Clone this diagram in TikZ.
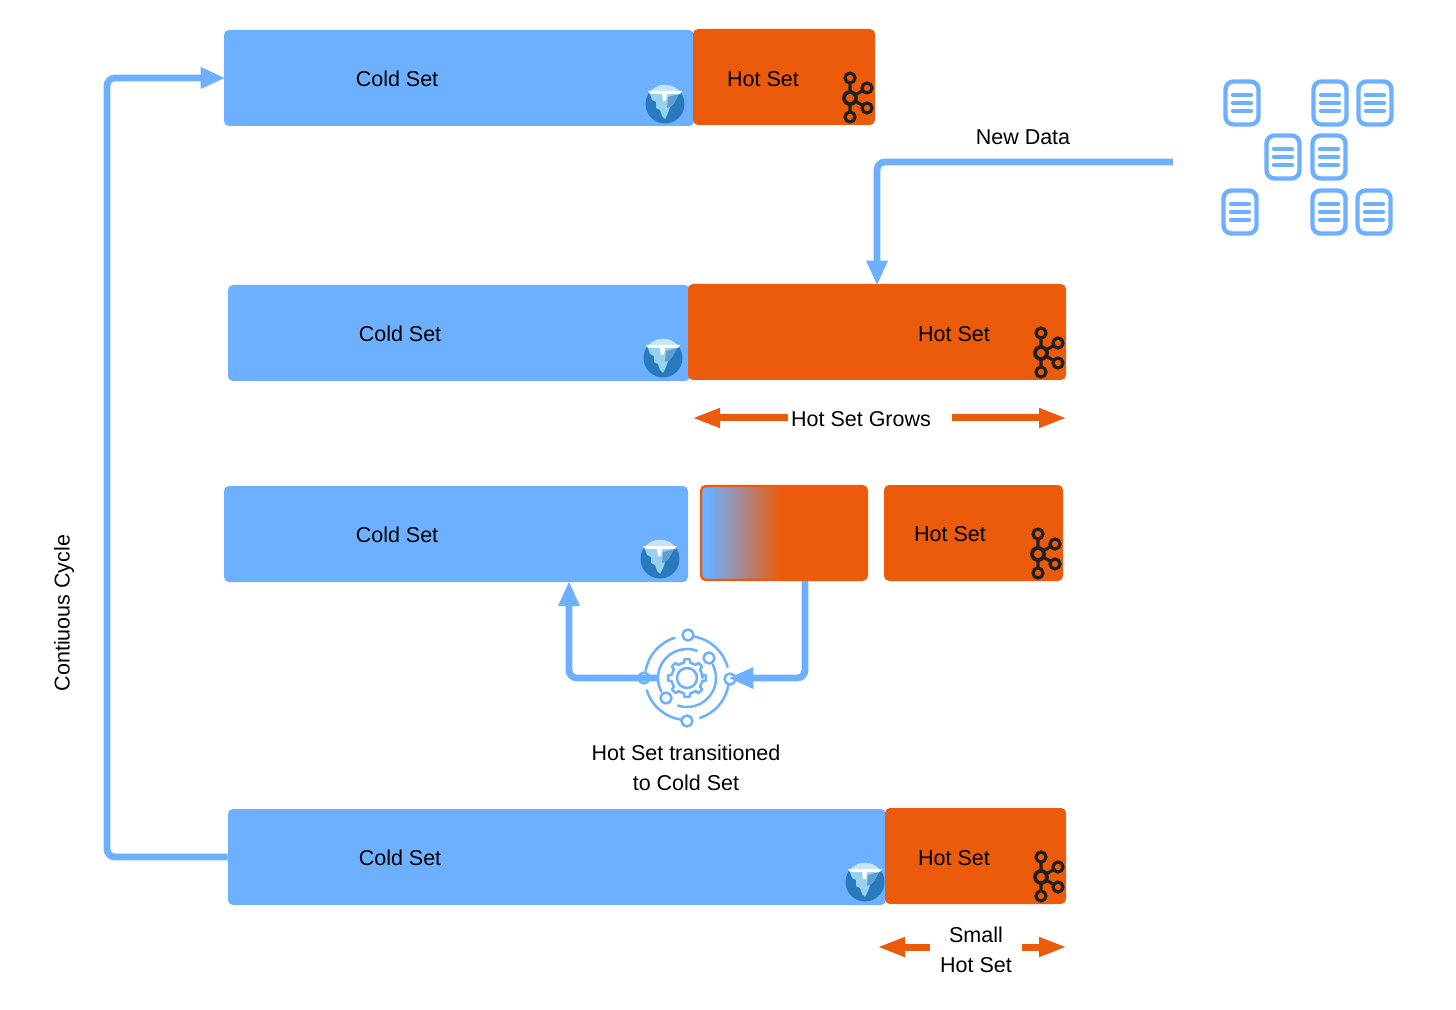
\documentclass[tikz,border=0pt]{standalone}
\usepackage{fontspec}
\setmainfont{Liberation Sans}
\usetikzlibrary{arrows.meta,positioning,calc}
\definecolor{ColdBlue}{RGB}{108,176,255}
\definecolor{HotOrange}{RGB}{236,91,11}
\definecolor{KafkaInk}{RGB}{32,32,34}
\definecolor{BergDeep}{RGB}{40,122,189}
\definecolor{BergSky}{RGB}{196,229,245}
\definecolor{BergIce}{RGB}{150,210,238}
\definecolor{BergShade}{RGB}{92,158,212}
\pgfdeclarehorizontalshading{coolwarm}{100bp}{color(0bp)=(ColdBlue); color(27bp)=(ColdBlue); color(49bp)=(HotOrange); color(100bp)=(HotOrange)}
\tikzset{
  coldbox/.style={fill=ColdBlue,rounded corners=2.5pt,minimum height=48pt,inner sep=0pt},
  hotbox/.style={fill=HotOrange,rounded corners=2.5pt,minimum height=48pt,inner sep=0pt},
  fadebox/.style={draw=HotOrange,line width=1.2pt,shading=coolwarm,rounded corners=2.5pt,
    minimum width=83pt,minimum height=47pt,inner sep=0pt},
  lbl/.style={inner sep=0pt,align=center,yshift=-0.5pt,font=\fontsize{10.75}{15}\selectfont},
  flow/.style={-{Triangle[length=12.5pt,width=10pt]},line width=3.4pt,ColdBlue,rounded corners=4pt,shorten >=-1pt},
  growarrow/.style={-{Triangle[length=14pt,width=9pt]},line width=3.5pt,HotOrange,shorten >=-1pt},
  kafka/.pic={
    \draw[KafkaInk,line width=1.6pt] (0,-20) -- (0,19) (0,0) -- (17,-10) (0,0) -- (17,10);
    \foreach \px/\py in {0/-20,0/19,17/-10,17/10}
      \draw[KafkaInk,line width=1.6pt,fill=HotOrange] (\px,\py) circle (5);
    \draw[KafkaInk,line width=1.9pt,fill=HotOrange] (0,0) circle (6);
  },
  iceberg/.pic={
    \fill[BergDeep] (0,0) circle (19.5);
    \begin{scope}
      \clip (0,0) circle (19.5);
      \fill[BergSky] (-20,-20) rectangle (20,-11);
    \end{scope}
    \fill[BergIce] (-15,-10) -- (14,-10) -- (9,-1) -- (5,3) -- (3,9) -- (0,15) -- (-3,12) -- (-5,6) -- (-9,4) -- (-9,-2) -- (-13,-4) -- cycle;
    \fill[BergShade] (3,-7) -- (14,-10) -- (9,-1) -- (5,3) -- (2,4) -- cycle;
    \fill[white] (-17,-13) -- (17,-13) -- (15,-10) -- (2,-10) -- (1,-3) -- (-2,-3) -- (-3,-10) -- (-15,-10) -- cycle;
  },
  docicon/.pic={
    \draw[ColdBlue,line width=2.2pt,rounded corners=4pt,fill=white] (-16.5,-21.5) rectangle (16.5,21.5);
    \foreach \py in {-8,0,8}
      \draw[ColdBlue,line width=2.2pt,line cap=round] (-9,\py) -- (9,\py);
  },
  engineicon/.pic={
    \begin{scope}[ColdBlue,line width=1.25pt,line cap=round,line join=round]
      % outer orbit, tikz angles are mirrored here
      \foreach \sa/\ea in {-80/-15,10/72,98/163,190/253}
        \draw (\sa:42) arc[start angle=\sa,end angle=\ea,radius=42];
      % inner orbit
      \draw (-70:29) arc[start angle=-70,end angle=-208,radius=29];
      \draw (108:29) arc[start angle=108,end angle=-28,radius=29];
      % gear
      \draw (0:15.5) \foreach \a in {0,45,...,315} {
        -- (\a-12:15.5) -- (\a-8:19) -- (\a+8:19) -- (\a+12:15.5) -- (\a+22.5:15.5) } -- cycle;
      \draw (0,0) circle (10);
      \foreach \px/\py in {1/-43,22/-20,-21/20,0/43,-43/0,43/1}
        \draw (\px,\py) circle (5.5);
    \end{scope}
  }
}
\begin{document}
\begin{tikzpicture}[x=0.5pt,y=-0.5pt]
  \useasboundingbox (0,0) rectangle (1456,1010);
  % first row
  \node[coldbox,minimum width=235pt] (cold1) at (459,78) {};
  \node[hotbox,minimum width=91pt] (hot1) at (784,77) {};
  \node[lbl] (coldlbl1) at (397,78) {Cold Set};
  \node[lbl] (hotlbl1) at (763,78) {Hot Set};
  \pic at (665,104) {iceberg};
  \pic at (850,98) {kafka};

  % second row
  \node[coldbox,minimum width=231pt] (cold2) at (459,333) {};
  \node[hotbox,minimum width=189pt] (hot2) at (877,332) {};
  \node[lbl] (coldlbl2) at (400,333) {Cold Set};
  \node[lbl] (hotlbl2) at (954,333) {Hot Set};
  \pic at (663,358) {iceberg};
  \pic at (1041,353) {kafka};

  % third row
  \node[coldbox,minimum width=232pt] (cold3) at (456,534) {};
  \node[fadebox] (mid3) at (784,533) {};
  \node[hotbox,minimum width=89.5pt] (hot3) at (973.5,533) {};
  \node[lbl] (coldlbl3) at (397,534) {Cold Set};
  \node[lbl] (hotlbl3) at (950,533) {Hot Set};
  \pic at (660,559) {iceberg};
  \pic at (1038,554) {kafka};

  % fourth row
  \node[coldbox,minimum width=329pt] (cold4) at (557,857) {};
  \node[hotbox,minimum width=90.5pt] (hot4) at (975.5,856) {};
  \node[lbl] (coldlbl4) at (400,857) {Cold Set};
  \node[lbl] (hotlbl4) at (954,857) {Hot Set};
  \pic at (865,882) {iceberg};
  \pic at (1041,877) {kafka};

  % incoming documents
  \foreach \dx/\dy [count=\i] in {1242/103,1330/103,1375/103,1283/157,1329/157,1240/212,1329/212,1374/212}
    \pic at (\dx,\dy) {docicon};
  \coordinate (datain) at (1173,162);
  \draw[flow] (datain) -| (hot2.north);
  \node[lbl] (newdata) at (1023,136) {New Data};

  % hot set grows
  \node[lbl] (growlbl) at (861,418) {Hot Set Grows};
  \coordinate (growleft) at (694,418);
  \coordinate (growright) at (1065,418);
  \draw[growarrow] ([xshift=-1.5pt,yshift=0.5pt]growlbl.west) -- (growleft);
  \draw[growarrow] ([xshift=10.5pt,yshift=0.5pt]growlbl.east) -- (growright);

  % transition back to cold
  \node[minimum size=43pt,inner sep=0pt] (engine) at (687,678) {};
  \coordinate (coldin) at (569,583);
  \coordinate (midout) at (805,581);
  \draw[flow] ([xshift=7pt]engine.west) -| (coldin);
  \draw[flow] (midout) |- (engine.east);
  \pic at (engine.center) {engineicon};
  \node[lbl] (translbl) at (686,767) {Hot Set transitioned\\to Cold Set};

  % small hot set
  \node[lbl] (smalllbl) at (976,949) {Small\\Hot Set};
  \coordinate (smallleft) at (879,947);
  \coordinate (smallright) at (1065,947);
  \draw[growarrow] (smalllbl.west |- smallleft) ++(-5pt,0) -- (smallleft);
  \draw[growarrow] (smalllbl.east |- smallright) ++(5pt,0) -- (smallright);

  % the cycle on the left
  \draw[flow] (cold4.west) -| (107,78) -- (cold1.west);
  \node[lbl,rotate=90] (cyclelbl) at (64,612) {Contiuous Cycle};
\end{tikzpicture}
\end{document}
